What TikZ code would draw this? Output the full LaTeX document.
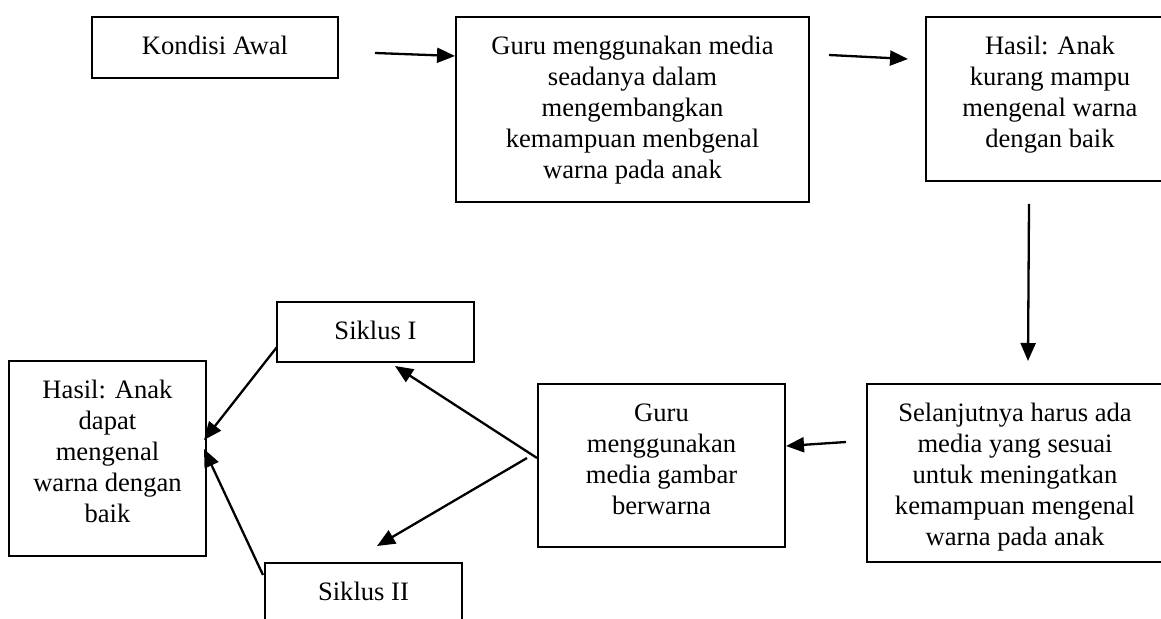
\documentclass[tikz,border=0pt]{standalone}
\usepackage{fontspec}
\setmainfont{Liberation Serif}
\usetikzlibrary{arrows.meta,calc}
\newcommand{\bxt}[3]{\parbox[c][#2][t]{#1}{\centering\vspace*{7.8pt}\strut #3\par}}
\begin{document}
\begin{tikzpicture}[x=0.5pt,y=-0.5pt,
  box/.style={draw,line width=1pt,inner sep=0pt,anchor=center,font=\fontsize{13.3}{15.5}\selectfont},
  arr/.style={line width=1.15pt,-{Triangle[length=9pt,width=7.5pt]}}]
\clip (0,0) rectangle (1161,619);
\fill[white] (0,0) rectangle (1161,619);
\node[box] (k)  at (215,47.5)   {\bxt{123pt}{30.5pt}{Kondisi Awal}};
\node[box] (g1) at (632.5,109.5){\bxt{176.5pt}{92.5pt}{Guru menggunakan media\\seadanya dalam\\mengembangkan\\kemampuan menbgenal\\warna pada anak}};
\node[box] (h1) at (1050,99)    {\bxt{124pt}{82pt}{Hasil: Anak\\kurang mampu\\mengenal warna\\dengan baik}};
\node[box] (s)  at (1015,473)   {\bxt{148pt}{89pt}{Selanjutnya harus ada\\media yang sesuai\\untuk meningatkan\\kemampuan mengenal\\warna pada anak}};
\node[box] (g2) at (661.5,465.5){\bxt{123.5pt}{81.5pt}{Guru\\menggunakan\\media gambar\\berwarna}};
\node[box] (h2) at (107.5,458.5){\bxt{98.5pt}{97.5pt}{Hasil: Anak\\dapat\\mengenal\\warna dengan\\baik}};
\node[box] (s1) at (375.5,332)  {\bxt{98.5pt}{30pt}{Siklus I}};
\node[box] (s2) at (363.5,593)  {\bxt{98.5pt}{30pt}{Siklus II}};
\draw[arr] ($(k.east)+(36,5.5)$) -- ($(g1.north west)+(0,40)$);
\draw[arr] ($(g1.north east)+(19,39)$) -- ($(h1.north west)+(-17,43)$);
\draw[arr] ($(h1.south)+(-21,22)$) -- ($(s.north)+(13,-22)$);
\draw[arr] ($(s.west)+(-20,-31)$) -- ($(g2.east)+(0,-19.5)$);
\draw[arr] ($(g2.west)+(0,-7.5)$) -- ($(s1.south)+(19.5,3)$);
\draw[arr] ($(g2.west)+(-10,-7.5)$) -- ($(s2.north)+(13.5,-16)$);
\draw[arr] ($(s1.west)+(1,15)$) -- ($(h2.east)+(-3,-18.5)$);
\draw[arr] ($(s2.west)+(-1,-18)$) -- ($(h2.east)+(-3,-9.5)$);
\end{tikzpicture}
\end{document}
